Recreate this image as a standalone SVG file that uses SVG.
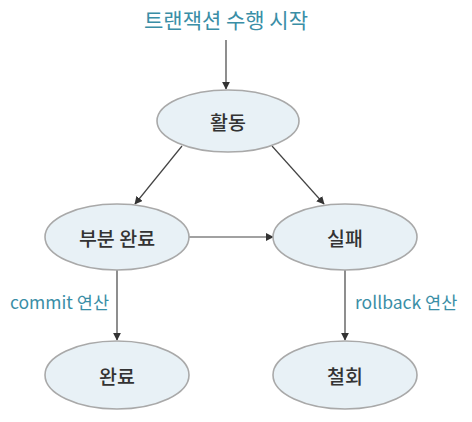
<svg xmlns="http://www.w3.org/2000/svg" width="472" height="422" viewBox="0 0 472 422">
<style>
.node ellipse{fill:#e8f1f6;stroke:#a9a9a9;stroke-width:1.6}
.node text{font-family:"Noto Sans CJK KR","Noto Sans",sans-serif;font-size:19.5px;font-weight:500;fill:#333;text-anchor:middle;dominant-baseline:central}
.lbl{font-family:"Noto Sans CJK KR","Noto Sans",sans-serif;font-size:17.5px;fill:#3a8ea6}
.edges line{stroke:#444;stroke-width:1.2;marker-end:url(#ah)}
</style>
<defs>
<marker id="ah" viewBox="0 0 10 10" refX="9" refY="5" markerWidth="8" markerHeight="8" markerUnits="userSpaceOnUse" orient="auto">
<path d="M0,0 L10,5 L0,10 z" fill="#333"/>
</marker>
</defs>
<rect width="472" height="422" fill="#fff"/>
<text class="lbl" x="226" y="28" text-anchor="middle" style="font-size:21px">트랜잭션 수행 시작</text>
<g class="edges">
<line x1="226" y1="40" x2="226" y2="89"/>
<line x1="182" y1="146" x2="135" y2="204"/>
<line x1="272" y1="146" x2="324" y2="204"/>
<line x1="189" y1="237" x2="273" y2="237"/>
<line x1="117" y1="270" x2="117" y2="340"/>
<line x1="345" y1="270" x2="345" y2="340"/>
</g>
<text class="lbl" x="10" y="309">commit 연산</text>
<text class="lbl" x="355" y="309">rollback 연산</text>
<g class="node" id="active"><ellipse cx="228" cy="121" rx="71" ry="31"/><text x="228" y="121">활동</text></g>
<g class="node" id="partial"><ellipse cx="117" cy="237" rx="72" ry="33"/><text x="117" y="237">부분 완료</text></g>
<g class="node" id="failed"><ellipse cx="345" cy="237" rx="72" ry="33"/><text x="345" y="237">실패</text></g>
<g class="node" id="committed"><ellipse cx="117" cy="375" rx="72" ry="34"/><text x="117" y="375">완료</text></g>
<g class="node" id="aborted"><ellipse cx="345" cy="375" rx="72" ry="34"/><text x="345" y="375">철회</text></g>
</svg>
